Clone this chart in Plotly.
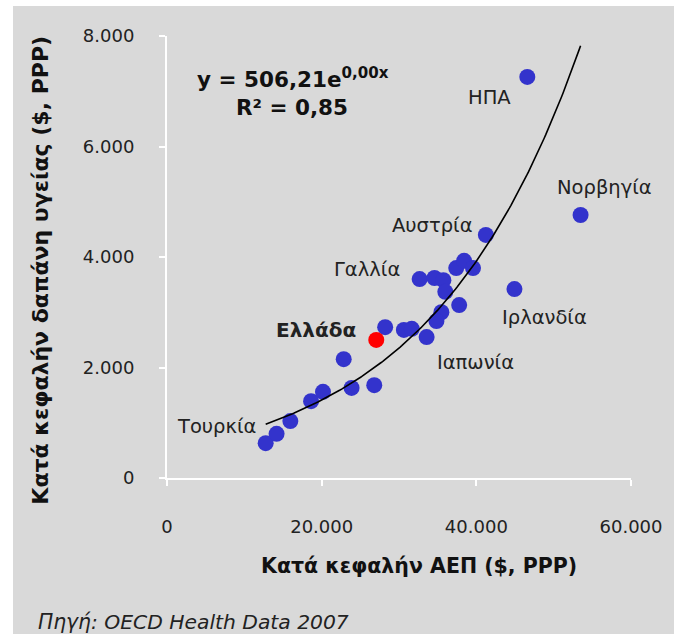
import numpy as np
import plotly.graph_objects as go

# Per-capita GDP vs per-capita health expenditure ($, PPP), OECD countries
gdp = [12760, 14170, 15950, 18630, 20170, 22850, 23870, 26800, 28210, 30630,
       31650, 33570, 32670, 34590, 35740, 35990, 37780, 35480, 34840, 37400,
       38420, 39570, 41230, 44930, 53480, 46590]
health = [630, 800, 1030, 1390, 1560, 2150, 1630, 1680, 2730, 2680,
          2700, 2550, 3600, 3620, 3580, 3370, 3130, 3000, 2840, 3800,
          3930, 3800, 4400, 3420, 4760, 7260]

# Greece, highlighted
greece_gdp = [27060]
greece_health = [2500]

# Exponential trend line y = a * exp(b x)
trend_a = 506.21
trend_b = 5.12e-5

x_ticks = [0, 20000, 40000, 60000]
x_tick_text = ["0", "20.000", "40.000", "60.000"]
y_ticks = [0, 2000, 4000, 6000, 8000]
y_tick_text = ["0", "2.000", "4.000", "6.000", "8.000"]

country_names = ["ΗΠΑ", "Νορβηγία", "Αυστρία", "Γαλλία", "Ιρλανδία", "Ιαπωνία", "Τουρκία"]
greece_name = "Ελλάδα"

x_title = "Κατά κεφαλήν ΑΕΠ ($, PPP)"
y_title = "Κατά κεφαλήν δαπάνη υγείας ($, PPP)"
source_text = "Πηγή: OECD Health Data 2007"

all_x = gdp + greece_gdp
tx = np.linspace(min(all_x), max(all_x), 200)
ty = trend_a * np.exp(trend_b * tx)

BG = "#d9d9d9"
BLUE = "#3333cc"
FONT = "DejaVu Sans"

# plot area geometry (pixels)
LEFT, RIGHT, TOP, BOTTOM = 167, 33, 36, 156
PLOT_W = 674 - LEFT - RIGHT
PLOT_H = 634 - TOP - BOTTOM

fig = go.Figure()
fig.add_trace(go.Scatter(x=gdp, y=health, mode="markers",
                         marker=dict(color=BLUE, size=16, line=dict(width=0)),
                         hoverinfo="x+y"))
fig.add_trace(go.Scatter(x=greece_gdp, y=greece_health, mode="markers",
                         marker=dict(color="#ff0000", size=16, line=dict(width=0))))
fig.add_trace(go.Scatter(x=tx, y=ty, mode="lines",
                         line=dict(color="black", width=1.6), hoverinfo="skip"))


def paper_x(px):
    return (px - LEFT) / 470


def paper_y(py):
    return (634 - BOTTOM - py) / PLOT_H


# label anchor positions in data units
label_pos = [(41735, 6896), (56540, 5267), (34330, 4579), (25900, 3765),
             (48755, 2914), (39950, 2082), (6380, 941)]
annotations = []
for name, (lx, ly) in zip(country_names, label_pos):
    annotations.append(dict(x=lx, y=ly, text=name, showarrow=False,
                            xanchor="center", yanchor="middle",
                            font=dict(family=FONT, size=19.5, color="#222222")))
annotations.append(dict(x=19270, y=2679, text="<b>" + greece_name + "</b>", showarrow=False,
                        xanchor="center", yanchor="middle",
                        font=dict(family=FONT, size=20, color="#222222")))

# trend equation
annotations.append(dict(xref="paper", yref="paper", x=paper_x(295), y=paper_y(78),
                        xanchor="center", yanchor="middle",
                        text="<b>y = 506,21e<sup>0,00x</sup></b>", showarrow=False,
                        font=dict(family=FONT, size=21.5, color="#111111")))
annotations.append(dict(xref="paper", yref="paper", x=paper_x(294), y=paper_y(108),
                        xanchor="center", yanchor="middle",
                        text="<b>R² = 0,85</b>", showarrow=False,
                        font=dict(family=FONT, size=21.5, color="#111111")))

# axis titles and source
annotations.append(dict(xref="paper", yref="paper", x=paper_x(422), y=paper_y(566),
                        xanchor="center", yanchor="middle",
                        text="<b>" + x_title + "</b>", showarrow=False,
                        font=dict(family=FONT, size=20.5, color="#111111")))
annotations.append(dict(xref="paper", yref="paper", x=paper_x(38), y=paper_y(270),
                        xanchor="center", yanchor="middle",
                        text="<b>" + y_title + "</b>", showarrow=False, textangle=-90,
                        font=dict(family=FONT, size=22, color="#111111")))
annotations.append(dict(xref="paper", yref="paper", x=paper_x(34), y=paper_y(622),
                        xanchor="left", yanchor="middle",
                        text="<i>" + source_text + "</i>", showarrow=False,
                        font=dict(family=FONT, size=20.3, color="#222222")))

# white page edges around the grey panel
shapes = [
    dict(type="rect", xref="paper", yref="paper", x0=-1, x1=paper_x(11),
         y0=-1, y1=2, fillcolor="white", line=dict(width=0), layer="above"),
    dict(type="rect", xref="paper", yref="paper", x0=-1, x1=2,
         y0=paper_y(6), y1=2, fillcolor="white", line=dict(width=0), layer="above"),
]

fig.update_layout(
    width=674, height=634,
    margin=dict(l=LEFT, r=RIGHT, t=TOP, b=BOTTOM),
    paper_bgcolor=BG, plot_bgcolor=BG,
    showlegend=False,
    font=dict(family=FONT, size=18, color="#222222"),
    annotations=annotations,
    shapes=shapes,
)
fig.update_xaxes(range=[0, 60000], tickvals=x_ticks, ticktext=x_tick_text,
                 showgrid=False, zeroline=False, showline=True, linecolor="white",
                 linewidth=2, ticks="outside", tickcolor="white", ticklen=6, tickwidth=2,
                 ticklabelstandoff=25, tickfont=dict(size=18, color="#222222"))
fig.update_yaxes(range=[0, 8000], tickvals=y_ticks, ticktext=y_tick_text,
                 showgrid=False, zeroline=False, showline=True, linecolor="white",
                 linewidth=2, ticks="outside", tickcolor="white", ticklen=6, tickwidth=2,
                 ticklabelstandoff=21, tickfont=dict(size=18, color="#222222"))

fig.write_html("out.html")
